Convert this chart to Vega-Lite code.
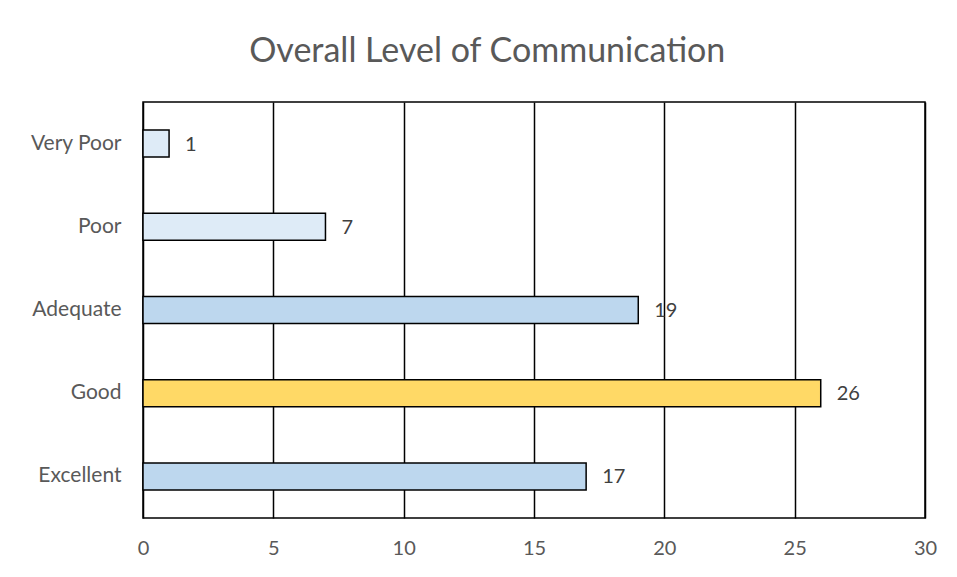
{
  "$schema": "https://vega.github.io/schema/vega-lite/v6.json",
  "width": 782,
  "height": 416,
  "autosize": {"type": "none"},
  "padding": {"left": 143, "top": 102, "right": 32, "bottom": 59},
  "background": "white",
  "title": {
    "text": "Overall Level of Communication",
    "fontSize": 34,
    "font": "Lato",
    "fontWeight": "normal",
    "color": "#595959",
    "anchor": "middle",
    "frame": "bounds",
    "offset": 33,
    "dx": 4
  },
  "data": {
    "values": [
      {"level": "Very Poor", "count": 1},
      {"level": "Poor", "count": 7},
      {"level": "Adequate", "count": 19},
      {"level": "Good", "count": 26},
      {"level": "Excellent", "count": 17}
    ]
  },
  "config": {
    "view": {"stroke": "black", "strokeWidth": 1.5},
    "font": "Lato"
  },
  "encoding": {
    "y": {
      "field": "level",
      "type": "nominal",
      "sort": null,
      "scale": {"paddingInner": 0.675, "paddingOuter": 0.3375},
      "axis": {
        "title": null,
        "ticks": false,
        "domain": false,
        "labelFontSize": 21,
        "labelColor": "#595959",
        "labelPadding": 22,
        "labelFont": "Lato"
      }
    },
    "x": {
      "field": "count",
      "type": "quantitative",
      "scale": {"domain": [0, 30], "nice": false},
      "axis": {
        "title": null,
        "values": [0, 5, 10, 15, 20, 25, 30],
        "grid": true,
        "gridColor": "black",
        "gridWidth": 1.5,
        "gridOpacity": 1,
        "ticks": false,
        "domain": false,
        "labelFlush": false,
        "labelFontSize": 20,
        "labelColor": "#595959",
        "labelPadding": 20,
        "labelFont": "Lato"
      }
    }
  },
  "layer": [
    {
      "mark": {"type": "bar", "stroke": "black", "strokeWidth": 1.5},
      "encoding": {
        "color": {
          "field": "level",
          "type": "nominal",
          "scale": {
            "domain": ["Very Poor", "Poor", "Adequate", "Good", "Excellent"],
            "range": ["#DEEBF7", "#DEEBF7", "#BDD7EE", "#FFD966", "#BDD7EE"]
          },
          "legend": null
        }
      }
    },
    {
      "mark": {"type": "text", "align": "left", "dx": 16, "dy": 1, "fontSize": 20, "color": "#404040", "font": "Lato"},
      "encoding": {"text": {"field": "count", "type": "quantitative"}}
    }
  ]
}
